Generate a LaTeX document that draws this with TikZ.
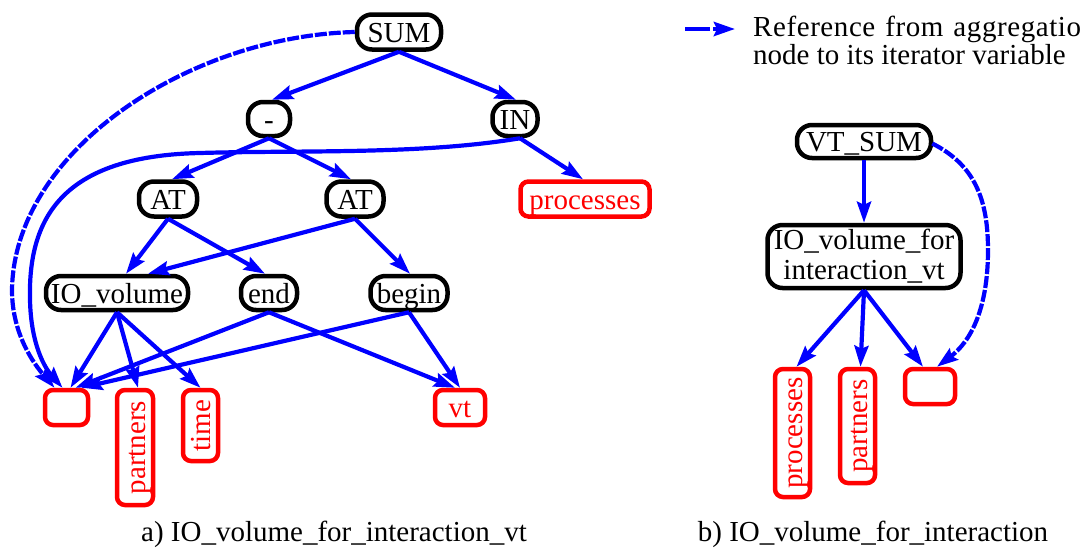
\documentclass[tikz,border=0pt]{standalone}
\usepackage{fontspec}
\setmainfont{Liberation Serif}
\usetikzlibrary{arrows.meta,calc}
\begin{document}
\begin{tikzpicture}[x=1pt,y=-1pt,
  every node/.style={font=\fontsize{29}{30}\selectfont, inner sep=0pt},
  box/.style={draw=black, line width=4.5pt, rounded corners=15pt},
  op/.style={box, text height=21.5pt, text depth=1.5pt},
  leaf/.style={draw=red, text=red, line width=4.5pt, rounded corners=8pt, text height=21.5pt, text depth=1.5pt},
  edge/.style={draw=blue, line width=4.2pt, -{Stealth[length=21pt,width=14pt,inset=3pt]}},
  iter/.style={edge, dash pattern=on 12pt off 2pt},
]
\useasboundingbox (0,0) rectangle (1082,547);

% ---- a) expression tree ----
\node[op, minimum width=84, minimum height=35] (sum) at (399,32) {SUM};
\node[op, minimum width=42, minimum height=34] (minus) at (269,119) {-};
\node[op, minimum width=45, minimum height=34] (in) at (515,119) {IN};
\node[op, minimum width=58, minimum height=35] (atl) at (168,199) {AT};
\node[op, minimum width=57, minimum height=35] (atr) at (355,199) {AT};
\node[leaf, minimum width=129, minimum height=35] (procA) at (585,199) {processes};
\node[op, minimum width=142, minimum height=34] (iov) at (117,293) {IO\_volume};
\node[op, minimum width=56, minimum height=34] (end) at (269,293) {end};
\node[op, minimum width=77, minimum height=34] (begin) at (409,293) {begin};
\node[leaf, minimum width=43, minimum height=35] (varA) at (66.5,407.5) {};
\node[leaf, rotate=90, minimum width=115, minimum height=36] (partA) at (135,447.5) {partners};
\node[leaf, rotate=90, minimum width=71, minimum height=35] (time) at (200.5,425.5) {time};
\node[leaf, minimum width=50, minimum height=35] (vt) at (460,407.5) {vt};

\node[anchor=base] (capA) at (334,541) {a) IO\_volume\_for\_interaction\_vt};

\draw[edge] (sum.south) -- ($(minus.north)+(3,0)$);
\draw[edge] (sum.south) -- ($(in.north)+(1,0)$);
\draw[edge] (minus.south) -- ($(atl.north)+(4,0)$);
\draw[edge] (minus.south) -- ($(atr.north)+(-4,0)$);
\draw[edge] ($(in.south)+(5,0)$) -- ($(procA.north)+(-2,0)$);
\draw[edge] (atl.south) -- ($(iov.north)+(9,0)$);
\draw[edge] (atl.south) -- ($(end.north)+(-4,0)$);
\draw[edge] (atr.south) -- ($(iov.north)+(31,0)$);
\draw[edge] (atr.south) -- ($(begin.north)+(1,0)$);
\draw[edge] (iov.south) -- ($(varA.north)+(4,0)$);
\draw[edge] (iov.south) -- ($(partA.east)+(3,0)$);
\draw[edge] (iov.south) -- (time.east);
\draw[edge] (end.south) -- ($(varA.north)+(9,0)$);
\draw[edge] (end.south) -- ($(vt.north)+(-5,0)$);
\draw[edge] (begin.south) -- ($(varA.north)+(15,0)$);
\draw[edge] (begin.south) -- (vt.north);

% iterator references
\draw[iter] (sum.west) .. controls (190,36) and (14,150) .. (12,290)
  .. controls (12,335) and (35,365) .. ($(varA.north)+(-12,0)$);
\draw[edge] ($(in.south)+(5,0)$) .. controls (420,155) and (300,150) .. (200,153)
  .. controls (60,156) and (28,220) .. (30,300)
  .. controls (31,345) and (45,368) .. ($(varA.north)+(-4,0)$);

% ---- b) aggregated view ----
\node[op, minimum width=134, minimum height=33] (vtsum) at (864,141.5) {VT\_SUM};
\node[box, minimum width=193, minimum height=63, align=center] (iofi) at (864,256.5) {IO\_volume\_for\\interaction\_vt};
\node[leaf, rotate=90, minimum width=128, minimum height=35] (procB) at (792.5,433) {processes};
\node[leaf, rotate=90, minimum width=114, minimum height=35] (partB) at (857.5,426) {partners};
\node[leaf, minimum width=50, minimum height=35] (varB) at (930,386.5) {};

\node[anchor=base] (capB) at (873,541) {b) IO\_volume\_for\_interaction};

\draw[edge] (vtsum.south) -- (iofi.north);
\draw[edge] (iofi.south) -- ($(procB.east)+(4,0)$);
\draw[edge] (iofi.south) -- ($(partB.east)+(3,0)$);
\draw[edge] (iofi.south) -- ($(varB.north)+(-7,0)$);
\draw[iter] ($(vtsum.east)+(-1,2)$) .. controls (975,165) and (988,200) .. (988,250)
  .. controls (988,310) and (970,342) .. ($(varB.north)+(7,0)$);

% ---- legend ----
\coordinate (legS) at (685,29);
\coordinate (legE) at (735,29);
\draw[iter, dash pattern=on 25pt off 3pt] (legS) -- (legE);
\node[anchor=west, align=left, font=\fontsize{29}{28}\selectfont] (legtxt) at (753,40)
  {{\addfontfeatures{LetterSpace=2}Reference\hspace{10pt}from\hspace{10pt}aggregation}\\node to its iterator variable};
\end{tikzpicture}
\end{document}
